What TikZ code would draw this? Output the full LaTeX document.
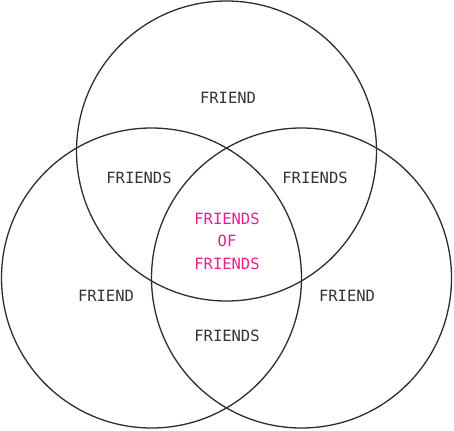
\documentclass[tikz,border=0pt]{standalone}
\usepackage{fontspec}
\setmonofont{DejaVu Sans Mono}
\definecolor{pinkish}{RGB}{232,30,140}
\definecolor{ring}{RGB}{45,45,45}
\begin{document}
\begin{tikzpicture}[x=1pt,y=-1pt,
  ringstyle/.style={draw=ring,line width=1.3pt},
  lbl/.style={font=\fontsize{15.5}{22.5}\selectfont\ttfamily,text=black!80,align=center,inner sep=0pt},
  hub/.style={lbl,text=pinkish}]
\useasboundingbox (0,0) rectangle (454,430);
\draw[ringstyle] (226.5,151) circle (150);
\draw[ringstyle] (151.5,278) circle (150);
\draw[ringstyle] (301.5,278) circle (150);
\node[lbl] (top) at (228,98) {FRIEND};
\node[lbl] (tl) at (139,178) {FRIENDS};
\node[lbl] (tr) at (315,178) {FRIENDS};
\node[hub] (mid) at (227,241) {FRIENDS\\OF\\FRIENDS};
\node[lbl] (l) at (106,296) {FRIEND};
\node[lbl] (r) at (347,296) {FRIEND};
\node[lbl] (b) at (227,336) {FRIENDS};
\end{tikzpicture}
\end{document}
